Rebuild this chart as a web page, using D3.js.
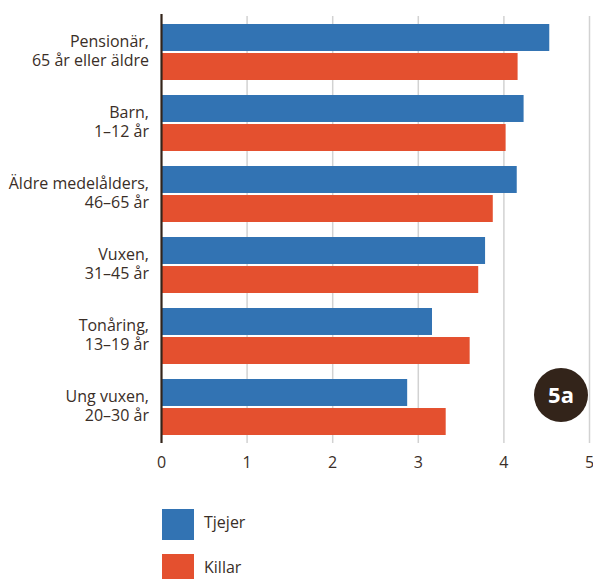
<!DOCTYPE html>
<html>
<head>
    <meta charset="utf-8">
    <title>5a</title>
    <script src="https://cdn.jsdelivr.net/npm/d3@7"></script>
    <style>
        body { margin: 0; background: #fff; }
        text { font-family: "Open Sans", sans-serif; fill: #3a2e27; }
    </style>
</head>
<body>
    <script>
        var categories = [
            ['Pensionär,', '65 år eller äldre'],
            ['Barn,', '1–12 år'],
            ['Äldre medelålders,', '46–65 år'],
            ['Vuxen,', '31–45 år'],
            ['Tonåring,', '13–19 år'],
            ['Ung vuxen,', '20–30 år']
        ];
        var tjejer = [4.53, 4.23, 4.15, 3.78, 3.16, 2.87];
        var killar = [4.16, 4.02, 3.87, 3.70, 3.60, 3.32];
        var ticks = [0, 1, 2, 3, 4, 5];
        var seriesNames = ['Tjejer', 'Killar'];
        var colors = ['#3273b3', '#e4502f'];

        var width = 593,
            height = 579;

        var svg = d3.select('body')
            .append('svg')
            .attr('width', width)
            .attr('height', height);

        var x = d3.scaleLinear()
            .domain([0, 5])
            .range([161.5, 589.5]);

        var y = d3.scaleBand()
            .domain(d3.range(categories.length))
            .range([24, 450])
            .paddingInner(0)
            .paddingOuter(0);

        var inner = d3.scaleBand()
            .domain([0, 1])
            .range([0, 56])
            .paddingInner(0.07);

        // grid lines
        svg.append('g')
            .selectAll('line')
            .data(ticks.slice(1))
            .join('line')
            .attr('x1', d => x(d))
            .attr('x2', d => x(d))
            .attr('y1', 16)
            .attr('y2', 443)
            .attr('stroke', '#d2d2d2')
            .attr('stroke-width', 1.5);

        // bars
        var groups = svg.append('g')
            .selectAll('g')
            .data(categories)
            .join('g')
            .attr('transform', (d, i) => 'translate(0,' + y(i) + ')');

        groups.each(function (d, i) {
            var vals = [tjejer[i], killar[i]];
            d3.select(this).selectAll('rect')
                .data(vals)
                .join('rect')
                .attr('x', x(0))
                .attr('y', (v, j) => inner(j))
                .attr('width', v => x(v) - x(0))
                .attr('height', inner.bandwidth())
                .attr('fill', (v, j) => colors[j]);
        });

        // category labels
        groups.append('text')
            .attr('text-anchor', 'end')
            .attr('x', 149)
            .attr('font-size', 16)
            .selectAll('tspan')
            .data(d => d)
            .join('tspan')
            .attr('x', 149)
            .attr('y', (d, j) => 23 + j * 19)
            .text(d => d);

        // axis line
        svg.append('line')
            .attr('x1', x(0))
            .attr('x2', x(0))
            .attr('y1', 14)
            .attr('y2', 443)
            .attr('stroke', '#33241a')
            .attr('stroke-width', 2.2);

        // tick labels
        svg.append('g')
            .selectAll('text')
            .data(ticks)
            .join('text')
            .attr('x', d => x(d))
            .attr('y', 468)
            .attr('text-anchor', 'middle')
            .attr('font-size', 16)
            .text(d => d);

        // legend
        var legend = svg.append('g')
            .selectAll('g')
            .data(seriesNames)
            .join('g')
            .attr('transform', (d, i) => 'translate(162,' + (509 + i * 45) + ')');

        legend.append('rect')
            .attr('width', 32)
            .attr('height', 31)
            .attr('fill', (d, i) => colors[i]);

        legend.append('text')
            .attr('x', 42)
            .attr('y', 19)
            .attr('font-size', 16)
            .text(d => d);

        // badge
        var badge = svg.append('g').attr('transform', 'translate(561,395)');
        badge.append('circle').attr('r', 27).attr('fill', '#33241a');
        badge.append('text')
            .attr('text-anchor', 'middle')
            .attr('y', 8)
            .attr('font-size', 22)
            .attr('font-weight', 'bold')
            .style('fill', '#fff')
            .text('5a');
    </script>
</body>
</html>
